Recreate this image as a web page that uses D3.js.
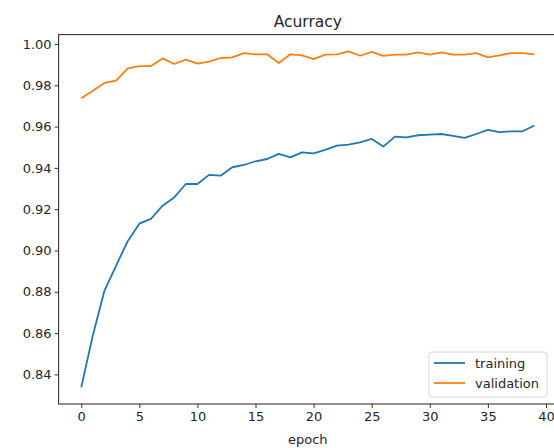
<!DOCTYPE html>
<html>
<head>
<meta charset="utf-8">
<script src="https://cdn.jsdelivr.net/npm/d3@7"></script>
<style>
    body { margin: 0; background: #fff; }
    svg { display: block; }
    text { font-family: "DejaVu Sans", sans-serif; fill: #262626; }
</style>
</head>
<body>
<div id="chart"></div>
<script>
const epochs = d3.range(40);

const training = [
    0.8338, 0.8590, 0.8806, 0.8927, 0.9045, 0.9130, 0.9153, 0.9217, 0.9257, 0.9322,
    0.9322, 0.9366, 0.9362, 0.9403, 0.9414, 0.9432, 0.9443, 0.9468, 0.9451, 0.9475,
    0.9470, 0.9487, 0.9508, 0.9513, 0.9524, 0.9540, 0.9503, 0.9551, 0.9548, 0.9558,
    0.9561, 0.9564, 0.9555, 0.9545, 0.9564, 0.9584, 0.9573, 0.9577, 0.9577, 0.9605
];

const validation = [
    0.9737, 0.9774, 0.9811, 0.9822, 0.9882, 0.9893, 0.9893, 0.9930, 0.9903, 0.9924,
    0.9905, 0.9914, 0.9932, 0.9935, 0.9956, 0.9950, 0.9950, 0.9908, 0.9950, 0.9945,
    0.9927, 0.9948, 0.9950, 0.9964, 0.9943, 0.9962, 0.9942, 0.9948, 0.9948, 0.9959,
    0.9948, 0.9959, 0.9948, 0.9948, 0.9956, 0.9935, 0.9945, 0.9956, 0.9956, 0.9950
];

const seriesNames = ['training', 'validation'];
const seriesColors = ['#1f77b4', '#ff7f0e'];

const xTicks = [0, 5, 10, 15, 20, 25, 30, 35, 40];
const yTicks = [0.84, 0.86, 0.88, 0.90, 0.92, 0.94, 0.96, 0.98, 1.00];

const W = 554, H = 448;
const margin = {top: 34.6, right: -3, bottom: 44, left: 58.6};

let w = W - margin.left - margin.right,
    h = H - margin.top - margin.bottom;

// matplotlib style 5% padding around the data
const xPad = (d3.max(epochs) - d3.min(epochs)) * 0.05;
const allY = training.concat(validation);
const yPad = (d3.max(allY) - d3.min(allY)) * 0.05;

let xScale = d3.scaleLinear()
    .domain([d3.min(epochs) - xPad, d3.max(epochs) + xPad])
    .range([0, w]);

let yScale = d3.scaleLinear()
    .domain([d3.min(allY) - yPad, d3.max(allY) + yPad])
    .range([h, 0]);

let svg = d3.select('#chart').append('svg')
    .attr('width', W)
    .attr('height', H);

let g = svg.append('g')
    .attr('transform', 'translate(' + margin.left + ',' + margin.top + ')');

// title
svg.append('text')
    .attr('x', margin.left + w / 2)
    .attr('y', 27)
    .attr('text-anchor', 'middle')
    .style('font-size', '15.5px')
    .text('Acurracy');

// axes
let xAxis = g.append('g')
    .attr('transform', 'translate(0,' + h + ')')
    .call(d3.axisBottom(xScale).tickValues(xTicks).tickSize(4).tickPadding(4).tickFormat(d3.format('d')));

let yAxis = g.append('g')
    .call(d3.axisLeft(yScale).tickValues(yTicks).tickSize(4).tickPadding(3).tickFormat(d3.format('.2f')));

[xAxis, yAxis].forEach((a) => {
    a.select('.domain').remove();
    a.selectAll('line').attr('stroke', '#333').attr('stroke-width', 1);
    a.selectAll('text')
        .style('font-size', '13px')
        .style('font-family', '"DejaVu Sans", sans-serif')
        .attr('fill', '#262626');
});

// x label
g.append('text')
    .attr('x', w / 2)
    .attr('y', h + 40)
    .attr('text-anchor', 'middle')
    .style('font-size', '13px')
    .text('epoch');

// lines
let line = d3.line()
    .x((d, i) => xScale(epochs[i]))
    .y((d) => yScale(d));

[training, validation].forEach((series, k) => {
    g.append('path')
        .datum(series)
        .attr('fill', 'none')
        .attr('stroke', seriesColors[k])
        .attr('stroke-width', 1.8)
        .attr('stroke-linejoin', 'round')
        .attr('d', line);
});

// frame
g.append('rect')
    .attr('width', w)
    .attr('height', h)
    .attr('fill', 'none')
    .attr('stroke', '#333')
    .attr('stroke-width', 1.1);

// legend
let legend = svg.append('g')
    .attr('transform', 'translate(429,352)');

legend.append('rect')
    .attr('width', 118)
    .attr('height', 45)
    .attr('rx', 3)
    .attr('fill', '#fff')
    .attr('fill-opacity', 0.8)
    .attr('stroke', '#d6d6d6');

seriesNames.forEach((name, k) => {
    let yy = 11 + k * 20;
    legend.append('line')
        .attr('x1', 5).attr('x2', 36)
        .attr('y1', yy).attr('y2', yy)
        .attr('stroke', seriesColors[k])
        .attr('stroke-width', 1.8);
    legend.append('text')
        .attr('x', 46)
        .attr('y', yy + 4.5)
        .style('font-size', '13px')
        .text(name);
});
</script>
</body>
</html>
